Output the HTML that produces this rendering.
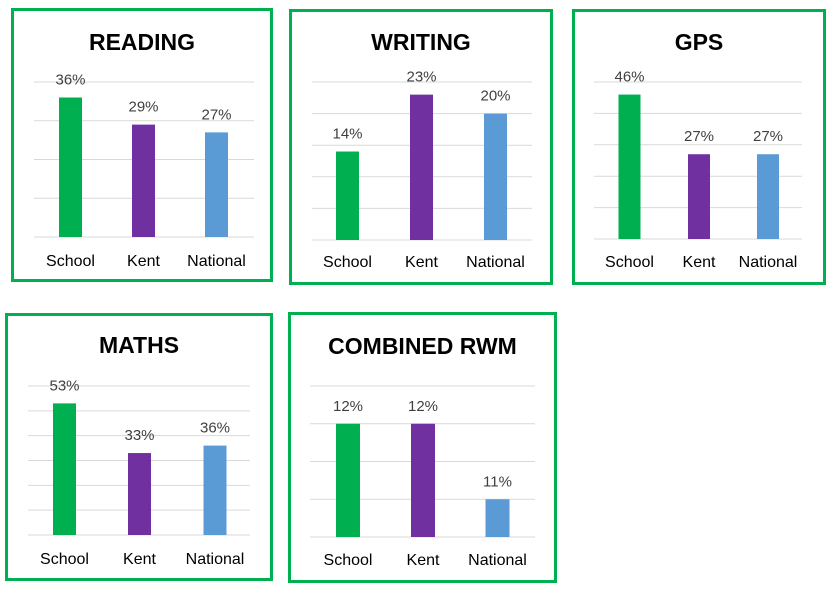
<!DOCTYPE html>
<html><head><meta charset="utf-8"><style>
body{margin:0;background:#fff;width:832px;height:601px;overflow:hidden}
svg{display:block}
</style></head><body>
<svg id="chart" width="832" height="601" xmlns="http://www.w3.org/2000/svg"></svg>
<script>
const categories = ["School", "Kent", "National"];
const titles = ["READING", "WRITING", "GPS", "MATHS", "COMBINED RWM"];
const readingValues = [36, 29, 27];
const writingValues = [14, 23, 20];
const gpsValues = [46, 27, 27];
const mathsValues = [53, 33, 36];
const combinedValues = [12, 12, 11];
const axisMins = [0, 0, 0, 0, 10.5];
const axisMaxs = [40, 25, 50, 60, 12.5];
const axisSteps = [10, 5, 10, 10, 0.5];
const seriesValues = [readingValues, writingValues, gpsValues, mathsValues, combinedValues];
const colors = ["#00b050", "#7030a0", "#5b9bd5"];
const layout = [
 {bx:11,by:8,bw:262,bh:274,px0:34,px1:254,yb:237,yt:82,cx:[70.5,143.5,216.5],bw2:23,ty:50,ly:266},
 {bx:289,by:9,bw:264,bh:276,px0:312,px1:532,yb:240,yt:82,cx:[347.5,421.5,495.5],bw2:23,ty:50,ly:267},
 {bx:572,by:9,bw:254,bh:276,px0:594,px1:802,yb:239,yt:82,cx:[629.5,699,768],bw2:22,ty:50,ly:267},
 {bx:5,by:313,bw:268,bh:268,px0:28,px1:250,yb:535,yt:386,cx:[64.5,139.5,215],bw2:23,ty:353,ly:564},
 {bx:288,by:312,bw:269,bh:271,px0:310,px1:535,yb:537,yt:386,cx:[348,423,497.5],bw2:24,ty:354,ly:565}
];
const NS = "http://www.w3.org/2000/svg";
const svg = document.getElementById("chart");
function mk(tag, attrs, parent){const e=document.createElementNS(NS,tag);for(const k in attrs)e.setAttribute(k,attrs[k]);parent.appendChild(e);return e;}
layout.forEach((L,i)=>{
  const g = mk("g",{},svg);
  
  
  const box = mk("rect",{x:L.bx+1.5,y:L.by+1.5,width:L.bw-3,height:L.bh-3,fill:"#fff",stroke:"#00b050","stroke-width":3},g);
  
  
  const t = mk("text",{x:L.bx+L.bw/2,y:L.ty,"text-anchor":"middle","font-family":"Liberation Sans, sans-serif","font-weight":"bold","font-size":"23",fill:"#000"},g);
  t.textContent = titles[i];
  
  
  const mn=axisMins[i], mx=axisMaxs[i], st=axisSteps[i];
  const y = v => L.yb - (v-mn)/(mx-mn)*(L.yb-L.yt);
  for(let v=mn; v<=mx+1e-9; v+=st){
    const gl = mk("line",{x1:L.px0,x2:L.px1,y1:y(v),y2:y(v),stroke:"#d9d9d9","stroke-width":1},g);
    
    
  }
  seriesValues[i].forEach((val,j)=>{
    const top=y(val);
    const b = mk("rect",{x:L.cx[j]-L.bw2/2,y:top,width:L.bw2,height:L.yb-top,fill:colors[j]},g);
    
    
    const vl = mk("text",{x:L.cx[j],y:top-13,"text-anchor":"middle","font-family":"Liberation Sans, sans-serif","font-size":"15",fill:"#404040"},g);
    vl.textContent = val+"%";
    
    
    const cl = mk("text",{x:L.cx[j],y:L.ly,"text-anchor":"middle","font-family":"Liberation Sans, sans-serif","font-size":"16",fill:"#000"},g);
    cl.textContent = categories[j];
    
    
  });
});
</script>
</body></html>
